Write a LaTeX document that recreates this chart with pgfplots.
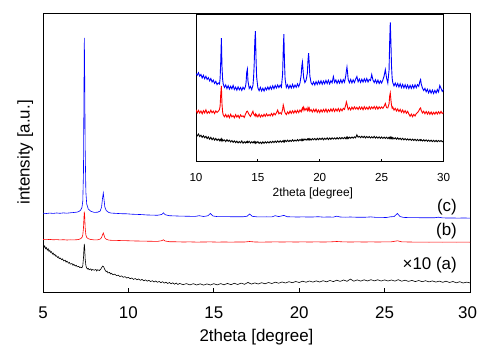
\documentclass[border=0pt]{standalone}
\usepackage{fontspec}
\setmainfont{Liberation Sans}
\usepackage{pgfplots}
\usepackage{pgfplotstable}
\pgfplotsset{compat=1.18}

\pgfplotstableread{
x c b a
10.0 96.5 60.2 35.4
10.1 94.8 57.1 33.9
10.2 97.3 59.6 35.8
10.3 93.9 56.8 33.2
10.4 95.6 58.9 34.6
10.5 92.1 56.2 32.4
10.6 94.7 59.3 34.1
10.7 91.3 57.0 32.0
10.8 93.8 60.1 33.5
10.9 90.6 56.5 31.2
11.0 92.4 58.4 32.9
11.1 89.2 56.9 30.6
11.2 91.5 59.7 32.5
11.3 88.0 57.2 30.1
11.4 89.9 58.8 31.8
11.5 86.6 56.3 29.7
11.6 88.7 59.0 31.4
11.7 85.4 57.5 29.4
11.8 87.1 58.6 30.8
11.9 86.0 60.5 29.1
11.95 92 64 30.5
12.0 109 76 29.3
12.05 132 84 30.9
12.1 104 66 28.8
12.15 91 58 30.2
12.2 86 55 29.0
12.3 82.6 53.1 29.9
12.4 85.1 55.4 28.2
12.5 81.4 52.6 30.1
12.6 84.3 54.9 28.5
12.7 80.9 52.2 29.6
12.8 83.7 55.6 27.8
12.9 81.2 53.0 29.2
13.0 84.6 54.3 27.5
13.1 80.5 52.1 28.9
13.2 82.9 55.2 27.1
13.3 79.8 52.8 28.6
13.4 83.1 54.6 26.9
13.5 80.2 51.9 28.3
13.6 82.5 55.0 27.0
13.7 79.6 53.3 28.8
13.8 82.8 54.1 26.6
13.9 80.7 52.4 28.1
14.0 83.4 55.8 26.8
14.05 88 57.0 28.0
14.1 98 58.5 27.3
14.15 101 58.8 28.4
14.2 89 57.6 27.0
14.3 81.5 55.2 28.5
14.4 83.6 53.4 26.7
14.5 80.4 56.0 28.0
14.6 84.5 58.7 26.9
14.65 92 56.1 27.9
14.7 105 55.0 27.1
14.75 128 54.2 28.3
14.8 139 55.9 26.6
14.85 112 53.6 27.8
14.9 93 55.2 26.9
15.0 82.1 53.0 28.2
15.1 79.3 55.7 26.4
15.2 82.6 52.8 27.7
15.3 79.0 54.9 26.2
15.4 81.8 53.2 27.9
15.5 78.9 55.6 26.5
15.6 82.3 53.5 28.0
15.7 80.1 56.0 26.7
15.8 83.0 53.9 28.1
15.9 80.4 55.3 26.8
16.0 83.5 54.0 28.3
16.1 80.8 56.4 27.0
16.2 84.2 54.1 28.5
16.3 81.3 56.7 27.2
16.4 84.6 55.0 28.7
16.5 82.0 57.2 27.3
16.6 85.1 59.8 28.9
16.7 82.4 56.0 27.5
16.8 84.9 57.3 29.0
16.9 82.8 55.9 27.6
17.0 96 60.5 28.8
17.05 120 65.0 27.9
17.1 136 62.5 29.2
17.15 108 59.0 28.0
17.2 91 57.1 29.4
17.3 82.5 55.3 28.1
17.4 85.3 58.0 29.6
17.5 81.7 56.1 28.2
17.6 84.8 58.9 29.5
17.7 82.0 56.5 28.4
17.8 85.6 59.1 30.0
17.9 82.3 56.8 28.5
18.0 85.0 59.4 29.8
18.1 82.7 57.0 28.7
18.2 86.1 59.6 30.2
18.3 83.4 57.3 28.9
18.4 86.8 59.9 30.3
18.5 95 58.0 29.1
18.55 104 60.4 30.5
18.6 108 62.0 29.3
18.65 100 59.8 30.6
18.7 92 62.8 29.5
18.8 87.5 59.5 30.8
18.9 90 61.6 29.6
19.0 97 59.2 30.9
19.05 110 62.3 29.8
19.1 117 60.1 31.0
19.15 107 61.9 29.9
19.2 94 58.7 31.1
19.3 87.2 60.4 29.7
19.4 85.4 57.9 31.2
19.5 88.1 60.6 30.0
19.6 85.0 58.2 31.3
19.7 88.4 60.8 29.8
19.8 85.6 57.6 31.4
19.9 88.9 59.9 30.1
20.0 86.0 57.4 31.5
20.1 89.2 60.2 30.3
20.2 85.8 57.9 31.7
20.3 89.0 60.5 30.0
20.4 86.3 58.1 31.6
20.5 89.6 60.9 30.4
20.6 86.5 57.7 31.9
20.7 89.8 60.4 30.2
20.8 86.1 58.3 31.8
20.9 89.3 61.0 30.5
21.0 87.2 58.6 32.0
21.1 93.5 61.3 30.7
21.2 87.6 58.4 31.9
21.3 90.1 61.0 30.6
21.4 86.6 58.8 32.1
21.5 89.7 61.4 30.8
21.6 86.9 58.5 32.2
21.7 90.3 61.1 30.9
21.8 87.0 59.0 32.3
21.9 90.4 61.6 31.0
22.0 87.8 60.5 32.4
22.1 94 65.0 31.1
22.15 99 68.0 32.5
22.2 103 66.0 31.2
22.25 97 62.5 32.6
22.3 90.5 60.3 31.3
22.4 87.3 62.4 32.7
22.5 90.6 60.0 31.5
22.6 87.1 62.8 32.8
22.7 90.2 60.6 31.6
22.8 87.5 63.1 33.0
22.9 90.9 60.9 32.0
23.0 93.5 62.6 35.0
23.1 88.2 60.4 32.6
23.2 91.0 63.0 33.4
23.3 87.6 60.7 32.1
23.4 90.8 62.9 33.6
23.5 87.9 60.2 32.2
23.6 91.2 63.3 33.5
23.7 88.3 60.8 31.9
23.8 91.5 62.7 33.3
23.9 88.0 60.5 32.0
24.0 90.6 63.2 33.2
24.1 89.5 60.9 31.8
24.2 95.5 63.0 33.1
24.3 90.0 61.2 31.9
24.4 87.4 63.5 33.4
24.5 90.3 61.0 31.7
24.6 86.8 63.4 33.0
24.7 89.9 60.8 31.6
24.8 86.5 63.1 32.9
24.9 89.2 61.4 31.5
25.0 87.0 63.0 32.8
25.1 90.1 61.5 31.4
25.2 94 63.6 32.7
25.3 100.5 66.5 31.3
25.4 92 62.2 32.6
25.5 87 62.0 31.2
25.6 100 66 32.5
25.65 128 74 31.4
25.7 148 77 32.7
25.75 128 70 31.2
25.8 104 64.5 32.4
25.85 92 61.8 31.0
25.9 87.5 62.9 32.3
26.0 84.1 59.8 30.9
26.1 87.0 61.6 32.0
26.2 83.6 58.9 30.6
26.3 86.5 61.0 31.9
26.4 83.0 58.4 30.4
26.5 86.2 60.5 31.6
26.6 82.4 57.6 30.1
26.7 85.6 59.9 31.5
26.8 82.1 57.1 29.9
26.9 85.3 59.3 31.2
27.0 81.9 56.6 29.8
27.1 85.0 58.6 31.0
27.2 81.5 55.9 29.6
27.3 84.6 53.6 30.8
27.4 81.6 55.8 29.4
27.5 84.9 53.2 30.7
27.6 81.8 55.5 29.3
27.7 85.2 53.9 30.5
27.8 82.3 56.2 29.1
27.9 85.4 57.3 30.4
28.0 83.6 59.0 29.0
28.1 89 61.5 30.3
28.15 90.5 62.0 29.2
28.2 86 59.6 30.1
28.3 81.9 56.9 28.8
28.4 79.5 58.7 30.0
28.5 81.6 56.1 28.7
28.6 78.2 58.4 29.9
28.7 80.7 55.8 28.5
28.8 77.1 58.1 29.7
28.9 80.2 55.6 28.4
29.0 76.8 57.9 29.6
29.1 79.9 55.4 28.2
29.2 76.5 57.6 29.5
29.3 79.6 55.7 28.1
29.4 76.9 58.0 29.4
29.5 80.4 55.9 28.0
29.6 78.0 58.2 29.3
29.7 84.5 56.2 28.3
29.8 81.7 58.5 29.2
29.9 78.6 56.4 28.0
30.0 80.5 57.2 28.9
}\insetdata

\begin{document}
\begin{tikzpicture}
\begin{axis}[
  name=main, at={(0,0)}, anchor=south west,
  scale only axis, width=427bp, height=279bp,
  xmin=5, xmax=30, ymin=8, ymax=287,
  xtick={5,10,...,30}, ytick=\empty,
  xticklabels={5,10,15,20,25,{\kern-5bp 30}},
  xtick pos=bottom, tick align=inside,
  major tick length=4bp,
  axis line style={line width=0.9bp},
  tick style={line width=0.8bp, black},
  xticklabel style={font=\fontsize{17}{20}\selectfont, anchor=base, yshift=-26.3bp, inner sep=0pt},
  xlabel={2theta [degree]},
  xlabel style={font=\fontsize{17}{20}\selectfont, at={(axis description cs:0.5,-0.178)}, anchor=base, inner sep=0pt},
  ylabel={intensity [a.u.]},
  ylabel style={font=\fontsize{17}{20}\selectfont, at={(axis description cs:-0.0316,0.5)}, anchor=base, inner sep=0pt},
]
\addplot[blue, line width=0.6bp] coordinates {
(5.0,86.8) (5.2,86.5) (5.4,86.9) (5.6,86.6) (5.8,87.0) (6.0,86.7) (6.2,87.1) (6.4,86.8) (6.6,87.2) (6.8,87.5)
(7.0,87.9) (7.1,88.5) (7.2,89.8) (7.28,92.5) (7.33,99) (7.37,128) (7.40,215) (7.42,262) (7.44,228) (7.47,150)
(7.51,108) (7.56,96) (7.65,91) (7.8,88.7) (8.0,87.6) (8.2,87.8) (8.35,89) (8.43,93) (8.48,101) (8.53,107)
(8.57,101) (8.62,93) (8.7,89.5) (8.85,87.5) (9.0,86.9) (9.3,86.6) (9.6,86.3) (9.9,86.2) (10.2,85.8) (10.5,85.6)
(10.8,85.4) (11.1,85.0) (11.4,84.9) (11.7,84.7) (11.95,85.5) (12.05,87.2) (12.15,85.3) (12.4,84.3) (12.7,84.1) (13.0,83.9)
(13.3,83.8) (13.6,83.7) (13.9,83.6) (14.15,84.3) (14.4,83.5) (14.65,84.2) (14.8,86.5) (14.95,84.0) (15.2,83.4) (15.5,83.3)
(15.8,83.4) (16.1,83.2) (16.4,83.3) (16.7,83.2) (16.95,83.8) (17.1,86.0) (17.25,83.7) (17.5,83.2) (17.8,83.1) (18.1,83.2)
(18.4,83.1) (18.6,84.3) (18.8,83.4) (19.1,84.6) (19.3,83.3) (19.6,83.1) (19.9,83.0) (20.2,83.1) (20.5,83.0) (20.8,83.0)
(21.1,83.3) (21.4,82.9) (21.7,83.0) (22.0,82.9) (22.2,83.8) (22.4,83.0) (22.7,82.8) (23.0,83.0) (23.3,82.8) (23.6,82.7)
(23.9,82.8) (24.2,83.1) (24.5,82.6) (24.8,82.6) (25.1,82.5) (25.35,83.2) (25.55,83.4) (25.75,86.5) (25.9,83.5) (26.1,82.6)
(26.4,82.4) (26.7,82.3) (27.0,82.3) (27.3,82.2) (27.6,82.2) (27.9,82.2) (28.15,82.8) (28.4,82.1) (28.7,82.0) (29.0,82.0)
(29.3,81.9) (29.6,82.0) (30.0,81.9)
};
\addplot[red, line width=0.6bp] coordinates {
(5.0,60.5) (5.2,60.3) (5.4,60.6) (5.6,60.2) (5.8,60.4) (6.0,60.1) (6.2,60.3) (6.4,60.0) (6.6,60.2) (6.8,60.1)
(7.0,60.3) (7.1,60.6) (7.2,61.3) (7.28,62.5) (7.33,65) (7.37,72) (7.40,83) (7.42,88.3) (7.44,84) (7.47,72)
(7.51,65) (7.56,62.5) (7.65,61.3) (7.8,60.5) (8.0,60.1) (8.2,60.2) (8.35,60.9) (8.43,62.5) (8.48,65) (8.53,67)
(8.57,65) (8.62,62.2) (8.7,60.8) (8.85,59.9) (9.0,59.7) (9.3,59.6) (9.6,59.4) (9.9,59.3) (10.2,59.1) (10.5,59.0)
(10.8,58.9) (11.1,58.8) (11.4,58.7) (11.7,58.6) (11.95,59.3) (12.05,60.2) (12.15,59.0) (12.4,58.3) (12.8,58.2) (13.2,58.0)
(13.6,58.1) (14.0,57.9) (14.4,58.0) (14.8,58.1) (15.2,57.9) (15.6,58.0) (16.0,57.9) (16.4,58.0) (16.8,58.0) (17.1,58.5)
(17.4,58.0) (17.8,57.9) (18.2,58.0) (18.6,58.1) (19.0,58.0) (19.4,58.1) (19.8,58.0) (20.2,58.1) (20.6,58.0) (21.0,58.1)
(21.4,58.0) (21.8,58.1) (22.2,58.5) (22.6,58.1) (23.0,58.0) (23.4,58.1) (23.8,58.0) (24.2,58.1) (24.6,58.0) (25.0,58.1)
(25.4,58.2) (25.75,59.2) (26.0,58.2) (26.4,58.0) (26.8,57.9) (27.2,57.9) (27.6,57.8) (28.0,57.9) (28.4,57.8) (28.8,57.9)
(29.2,57.8) (29.6,57.9) (30.0,57.8)
};
\addplot[black, line width=0.6bp] coordinates {
(5.0,55.0) (5.05,52.6) (5.1,54.1) (5.15,51.3) (5.2,52.4) (5.25,49.9) (5.3,51.2) (5.35,48.6) (5.4,49.7) (5.45,47.5)
(5.5,48.3) (5.55,46.0) (5.6,46.9) (5.65,44.8) (5.7,45.6) (5.75,43.7) (5.8,44.2) (5.85,42.5) (5.9,43.3) (5.95,41.4)
(6.0,42.0) (6.1,40.3) (6.15,41.2) (6.2,39.1) (6.3,39.8) (6.35,37.9) (6.4,38.9) (6.5,36.8) (6.55,37.6) (6.6,35.9)
(6.7,36.5) (6.75,34.8) (6.8,35.6) (6.9,34.0) (6.95,34.7) (7.0,33.2) (7.1,33.6) (7.15,32.4) (7.2,32.9) (7.28,32.2)
(7.33,34.5) (7.37,42) (7.40,52) (7.42,56) (7.44,52) (7.47,41) (7.51,34.5) (7.56,32.0) (7.6,31.0) (7.65,31.6)
(7.7,30.2) (7.8,31.1) (7.85,29.6) (7.9,30.5) (8.0,29.8) (8.1,30.6) (8.15,29.0) (8.2,30.3) (8.3,29.5) (8.38,30.8)
(8.45,32.8) (8.5,34.0) (8.55,33.2) (8.62,30.4) (8.7,28.2) (8.75,28.9) (8.8,27.1) (8.9,27.6) (8.95,26.0) (9.0,26.7)
(9.1,25.2) (9.2,25.9) (9.3,24.3) (9.4,24.9) (9.5,23.5) (9.6,24.1) (9.7,22.7) (9.8,23.4) (9.9,22.0) (10.0,22.6)
(10.1,21.3) (10.2,22.0) (10.3,20.6) (10.4,21.5) (10.5,20.2) (10.6,21.0) (10.7,19.7) (10.8,20.6) (10.9,19.2) (11.0,20.1)
(11.1,18.8) (11.2,19.7) (11.3,18.4) (11.4,19.3) (11.5,18.0) (11.6,19.0) (11.7,17.7) (11.8,18.6) (11.9,17.3) (12.0,18.3)
(12.1,16.9) (12.2,17.8) (12.3,16.5) (12.4,17.5) (12.5,16.2) (12.6,17.2) (12.7,15.8) (12.8,16.9) (12.9,15.5) (13.0,16.6)
(13.2,15.3) (13.4,16.4) (13.6,15.1) (13.8,16.3) (14.0,15.0) (14.2,16.2) (14.4,14.9) (14.6,16.1) (14.8,15.0) (15.0,16.3)
(15.2,15.1) (15.4,16.4) (15.6,15.2) (15.8,16.6) (16.0,15.3) (16.2,16.7) (16.4,15.5) (16.6,16.9) (16.8,15.7) (17.0,17.6)
(17.2,15.9) (17.4,17.1) (17.6,16.0) (17.8,17.3) (18.0,16.2) (18.2,17.5) (18.4,16.5) (18.6,17.8) (18.8,16.8) (19.0,18.0)
(19.2,17.0) (19.4,18.3) (19.6,17.3) (19.8,18.5) (20.0,17.5) (20.2,18.8) (20.4,17.8) (20.6,19.0) (20.8,17.9) (21.0,19.1)
(21.2,18.0) (21.4,19.3) (21.6,18.2) (21.8,19.5) (22.0,18.4) (22.2,19.8) (22.4,18.6) (22.6,20.0) (22.8,18.7) (23.0,20.9)
(23.2,18.8) (23.4,20.1) (23.6,18.9) (23.8,20.2) (24.0,19.0) (24.2,20.3) (24.4,19.1) (24.6,20.2) (24.8,19.0) (25.0,20.1)
(25.2,19.0) (25.4,20.0) (25.6,18.9) (25.8,20.3) (26.0,18.8) (26.2,19.8) (26.4,18.6) (26.6,19.6) (26.8,18.4) (27.0,19.5)
(27.2,18.3) (27.4,19.3) (27.6,18.1) (27.8,19.1) (28.0,17.9) (28.2,18.9) (28.4,17.7) (28.6,18.8) (28.8,17.5) (29.0,18.5)
(29.2,17.2) (29.4,18.3) (29.6,17.0) (29.8,17.9) (30.0,17.1)
};
\node[anchor=base east, inner sep=0pt, font=\fontsize{17}{20}\selectfont] at (axis cs:29.24,88.5) {(c)};
\node[anchor=base east, inner sep=0pt, font=\fontsize{17}{20}\selectfont] at (axis cs:29.24,64.5) {(b)};
\node[anchor=base east, inner sep=0pt, font=\fontsize{17}{20}\selectfont] at (axis cs:29.24,30.2) {×10 (a)};
\end{axis}

\begin{axis}[
  at={(153bp,130.3bp)}, anchor=south west,
  scale only axis, width=247.5bp, height=147.4bp,
  xmin=10, xmax=30, ymin=8, ymax=156,
  xtick={10,15,...,30}, ytick=\empty,
  xticklabels={10,15,20,25,30},
  xtick pos=bottom, tick align=inside,
  major tick length=3bp,
  axis line style={line width=0.9bp},
  tick style={line width=0.8bp, black},
  xticklabel style={font=\fontsize{11.7}{14}\selectfont, anchor=base, yshift=-20bp, inner sep=0pt},
  xlabel={2theta [degree]},
  xlabel style={font=\fontsize{12}{14}\selectfont, at={(axis description cs:0.472,-0.2374)}, anchor=base, inner sep=0pt},
]
\addplot[blue, line width=0.9bp] table[x=x, y=c] {\insetdata};
\addplot[red, line width=0.9bp] table[x=x, y=b] {\insetdata};
\addplot[black, line width=0.9bp] table[x=x, y=a] {\insetdata};
\end{axis}
\pgfresetboundingbox
\path[use as bounding box] (-43bp,-53bp) rectangle (434bp,292bp);
\end{tikzpicture}
\end{document}
